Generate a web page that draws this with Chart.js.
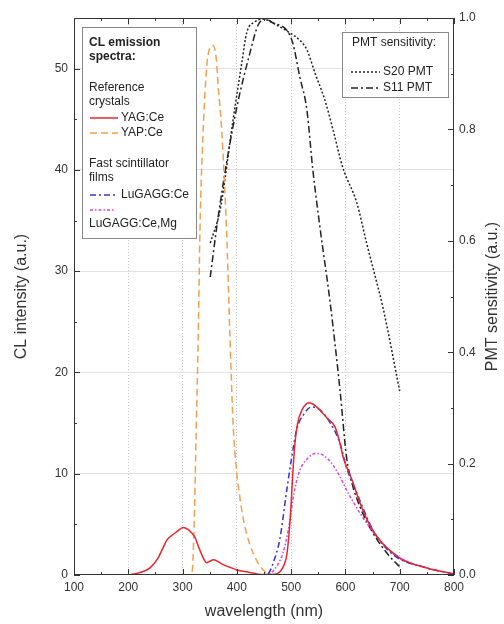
<!DOCTYPE html>
<html>
<head>
<meta charset="utf-8">
<script src="https://cdn.jsdelivr.net/npm/chart.js@4.4.1/dist/chart.umd.min.js"></script>
<style>
  html, body { margin: 0; padding: 0; background: #fff; }
  #wrap { width: 504px; height: 624px; }
</style>
</head>
<body>
<div id="wrap"><canvas id="cl-chart" width="504" height="624"></canvas></div>
<script>
// CL emission spectra (left axis, a.u.)
const yagWl = [200,210,225,240,255,265,271,280,290,301,310,316,323,330,338,344,350,357,363,369,380,390,400,420,448,465,479,487,492,496,500,503,507,512,520,533,547,566,581,590,596,612,632,658,700,750,800];
const yagCl = [0,0.1,0.3,0.7,1.7,2.8,3.45,3.9,4.3,4.7,4.5,4.2,3.7,2.7,1.7,1.2,1.35,1.5,1.4,1.2,0.9,0.7,0.5,0.3,0.05,0.05,0.3,1,2,4,7,10,13,15,16.3,17,16.6,15.5,14.6,13,11.6,9.4,6.4,3.8,1.7,0.7,0.1];

const yapWl = [200,250,300,314,318,321,325,329,332,338,345,350,356,362,366,372,381,387,393,400,406,412,424,435,445,455,465,500,600,700,800];
const yapCl = [0,0,0,0,0.5,4.4,14,24,34,44,50.5,52,52.3,51,48,44,34,24,15,10,7.5,5.5,3,1.6,0.7,0.2,0,0,0,0,0];

const lugaggWl = [200,300,400,450,460,467,479,492,501,510,525,538,553,571,590,602,621,651,688,743,800];
const lugaggCl = [0,0,0,0,0.3,1.2,3.5,8.4,11.6,14.3,16,16.6,16.3,15.1,13,10.6,8.1,4.4,2,0.8,0.1];

const lugaggMgWl = [200,300,400,455,465,475,485,495,505,515,530,545,560,575,590,602,627,658,695,750,800];
const lugaggMgCl = [0,0,0,0,0.3,1,2.2,4.5,8,10.2,11.5,12,11.8,11,9.7,8.4,6.1,3.8,1.8,0.7,0.1];

// PMT sensitivity (right axis, a.u.)
const s20Wl = [351,369,393,409,418,433,448,474,498,516,529,544,562,577,595,621,639,658,669,700];
const s20Sens = [0.596,0.655,0.817,0.919,0.973,0.993,0.998,0.987,0.973,0.96,0.943,0.901,0.853,0.8,0.732,0.668,0.596,0.524,0.481,0.33];

const s11Wl = [351,363,378,400,424,439,452,467,492,503,516,529,540,553,572,590,602,612,627,651,680,700];
const s11Sens = [0.535,0.625,0.722,0.84,0.937,0.987,0.998,0.991,0.978,0.955,0.894,0.835,0.727,0.625,0.488,0.332,0.212,0.165,0.122,0.075,0.035,0.015];

const FONT = '"Liberation Sans", Arial, sans-serif';
const TEXT = '#333';

function pts(xs, ys) { return xs.map((x, i) => ({x, y: ys[i]})); }

function series(label, xs, ys, color, dash, axis) {
  return {
    label, data: pts(xs, ys), yAxisID: axis,
    borderColor: color, borderDash: dash, borderWidth: 1.5,
    pointRadius: 0, fill: false, cubicInterpolationMode: 'monotone'
  };
}

const datasets = [
  series('YAG:Ce', yagWl, yagCl, '#e8262b', [], 'y'),
  series('YAP:Ce', yapWl, yapCl, '#f2a04e', [7, 4], 'y'),
  series('LuGAGG:Ce', lugaggWl, lugaggCl, '#3434d8', [6, 3, 2, 3], 'y'),
  series('LuGAGG:Ce,Mg', lugaggMgWl, lugaggMgCl, '#dc44dc', [3, 2, 1.5, 2], 'y'),
  series('S20 PMT', s20Wl, s20Sens, '#222', [2, 2], 'y2'),
  series('S11 PMT', s11Wl, s11Sens, '#222', [7, 3, 2, 3], 'y2')
];

function sample(ctx, ds, x0, x1, y) {
  ctx.save();
  ctx.strokeStyle = ds.borderColor;
  ctx.lineWidth = ds.borderWidth;
  ctx.setLineDash(ds.borderDash);
  ctx.beginPath(); ctx.moveTo(x0, y); ctx.lineTo(x1, y); ctx.stroke();
  ctx.restore();
}

// frame, inward ticks, right title and the two legend boxes
const decor = {
  id: 'decor',
  afterDatasetsDraw(chart) {
    const {ctx, chartArea: a, scales} = chart;
    ctx.save();
    ctx.strokeStyle = '#333';
    ctx.lineWidth = 1;
    ctx.setLineDash([]);
    ctx.strokeRect(a.left + 0.5, a.top + 0.5, a.right - a.left - 1, a.bottom - a.top - 1);

    const line = (x0, y0, x1, y1) => { ctx.beginPath(); ctx.moveTo(x0, y0); ctx.lineTo(x1, y1); ctx.stroke(); };
    for (let v = 100; v <= 800; v += 50) {
      const px = Math.round(scales.x.getPixelForValue(v)) + 0.5;
      const len = v % 100 === 0 ? 6 : 3;
      line(px, a.bottom, px, a.bottom - len);
      line(px, a.top, px, a.top + len);
    }
    for (let v = 0; v <= 55; v += 5) {
      const py = Math.round(scales.y.getPixelForValue(v)) + 0.5;
      line(a.left, py, a.left + (v % 10 === 0 ? 6 : 3), py);
    }
    for (let i = 0; i <= 10; i++) {
      const py = Math.round(scales.y2.getPixelForValue(i / 10)) + 0.5;
      line(a.right, py, a.right - (i % 2 === 0 ? 6 : 3), py);
    }

    // right axis title, read bottom to top
    ctx.fillStyle = TEXT;
    ctx.font = '16px ' + FONT;
    ctx.textAlign = 'center';
    ctx.textBaseline = 'middle';
    ctx.save();
    ctx.translate(493, (a.top + a.bottom) / 2);
    ctx.rotate(-Math.PI / 2);
    ctx.fillText('PMT sensitivity (a.u.)', 0, 0);
    ctx.restore();

    // left legend
    ctx.fillStyle = '#fff';
    ctx.strokeStyle = '#888';
    ctx.fillRect(82, 27, 114, 211);
    ctx.strokeRect(82.5, 27.5, 114, 211);
    ctx.fillStyle = '#222';
    ctx.textAlign = 'left';
    ctx.font = 'bold 12px ' + FONT;
    ctx.fillText('CL emission', 89, 43);
    ctx.fillText('spectra:', 89, 57);
    ctx.font = '12px ' + FONT;
    ctx.fillText('Reference', 89, 88);
    ctx.fillText('crystals', 89, 102);
    sample(ctx, datasets[0], 90, 118, 118);
    ctx.fillText('YAG:Ce', 121, 118);
    sample(ctx, datasets[1], 90, 118, 133);
    ctx.fillText('YAP:Ce', 121, 133);
    ctx.fillText('Fast scintillator', 89, 164);
    ctx.fillText('films', 89, 178);
    sample(ctx, datasets[2], 90, 115, 195);
    ctx.fillText('LuGAGG:Ce', 121, 195);
    sample(ctx, datasets[3], 90, 115, 210);
    ctx.fillText('LuGAGG:Ce,Mg', 89, 224);

    // right legend
    ctx.fillStyle = '#fff';
    ctx.fillRect(342, 32, 106, 65);
    ctx.strokeRect(342.5, 32.5, 106, 65);
    ctx.fillStyle = '#222';
    ctx.fillText('PMT sensitivity:', 352, 43);
    sample(ctx, datasets[4], 351, 380, 72);
    ctx.fillText('S20 PMT', 383, 72);
    sample(ctx, datasets[5], 351, 380, 88);
    ctx.fillText('S11 PMT', 383, 88);
    ctx.restore();
  }
};

new Chart(document.getElementById('cl-chart').getContext('2d'), {
  type: 'line',
  data: { datasets },
  options: {
    responsive: false,
    animation: false,
    devicePixelRatio: 1,
    layout: { padding: { top: 18 } },
    plugins: { legend: { display: false }, tooltip: { enabled: false } },
    scales: {
      x: {
        type: 'linear', min: 100, max: 800,
        afterFit: s => { s.height = 49; },
        ticks: { stepSize: 100, padding: 5, color: TEXT, font: { family: FONT, size: 12 } },
        grid: {
          drawTicks: false, lineWidth: 1,
          color: c => (c.tick && (c.tick.value === 100 || c.tick.value === 800)) ? 'rgba(0,0,0,0)' : '#c4c4c4'
        },
        border: { display: false, dash: [1, 2] },
        title: { display: true, text: 'wavelength (nm)', color: TEXT, font: { family: FONT, size: 16 }, padding: { top: 0, bottom: 3 } }
      },
      y: {
        position: 'left', min: 0, max: 55,
        afterFit: s => { s.width = 74; },
        ticks: { stepSize: 10, padding: 6, color: TEXT, font: { family: FONT, size: 12 },
                 callback: v => (v % 10 === 0 ? v : '') },
        grid: {
          drawTicks: false, lineWidth: 1,
          color: c => (c.tick && (c.tick.value === 0 || c.tick.value === 55)) ? 'rgba(0,0,0,0)' : '#e2e2e2'
        },
        border: { display: false },
        title: { display: true, text: 'CL intensity (a.u.)', color: TEXT, font: { family: FONT, size: 16 }, padding: { top: 12, bottom: 0 } }
      },
      y2: {
        position: 'right', min: 0, max: 1,
        afterFit: s => { s.width = 50; },
        ticks: { stepSize: 0.2, padding: 5, color: TEXT, font: { family: FONT, size: 12 },
                 callback: v => v.toFixed(1) },
        grid: { drawOnChartArea: false, drawTicks: false },
        border: { display: false }
      }
    }
  },
  plugins: [decor]
});
</script>
</body>
</html>
